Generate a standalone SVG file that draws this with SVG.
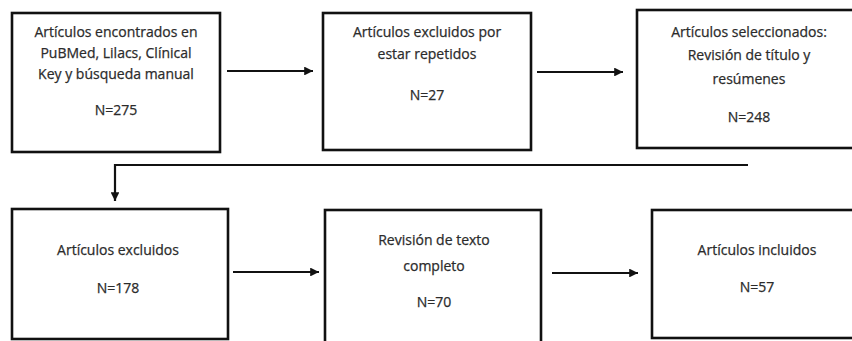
<svg xmlns="http://www.w3.org/2000/svg" width="852" height="341" viewBox="0 0 852 341">
<style>
.box{fill:#fff;stroke:#111;stroke-width:2.6}
.t{font-family:"Open Sans","Noto Sans",sans-serif;font-size:14px;fill:#2b2b2b;stroke:#2b2b2b;stroke-width:0.25;text-anchor:middle}
.c{fill:none;stroke:#111;stroke-width:2.2}
</style>
<defs>
<marker id="ah" viewBox="0 0 10 10" refX="10" refY="5" markerWidth="4.2" markerHeight="4" markerUnits="strokeWidth" orient="auto">
<path d="M0,0 L10,5 L0,10 Z" fill="#111"/>
</marker>
</defs>
<rect width="852" height="341" fill="#fff"/>
<g id="connectors">
<line class="c" x1="227" y1="71" x2="313" y2="71" marker-end="url(#ah)"/>
<line class="c" x1="537" y1="72" x2="623" y2="72" marker-end="url(#ah)"/>
<polyline class="c" points="748,165 115,165 115,201" marker-end="url(#ah)"/>
<line class="c" x1="233" y1="272" x2="319" y2="272" marker-end="url(#ah)"/>
<line class="c" x1="552" y1="273" x2="638" y2="273" marker-end="url(#ah)"/>
</g>
<g id="n1">
<rect class="box" x="12" y="13" width="208" height="139"/>
<text class="t" x="116" y="37">Artículos encontrados en</text>
<text class="t" x="116" y="58">PuBMed, Lilacs, Clínical</text>
<text class="t" x="116" y="79">Key y búsqueda manual</text>
<text class="t" x="116" y="115">N=275</text>
</g>
<g id="n2">
<rect class="box" x="323" y="13" width="208" height="137"/>
<text class="t" x="427" y="37">Artículos excluidos por</text>
<text class="t" x="427" y="59">estar repetidos</text>
<text class="t" x="427" y="100">N=27</text>
</g>
<g id="n3">
<rect class="box" x="637" y="10" width="225" height="138"/>
<text class="t" x="749" y="37">Artículos seleccionados:</text>
<text class="t" x="749" y="60">Revisión de título y</text>
<text class="t" x="749" y="84">resúmenes</text>
<text class="t" x="749" y="122">N=248</text>
</g>
<g id="n4">
<rect class="box" x="12" y="209" width="216" height="130"/>
<text class="t" x="118" y="255">Artículos excluidos</text>
<text class="t" x="118" y="293">N=178</text>
</g>
<g id="n5">
<rect class="box" x="325" y="210" width="216" height="140"/>
<text class="t" x="434" y="245">Revisión de texto</text>
<text class="t" x="434" y="271">completo</text>
<text class="t" x="434" y="307">N=70</text>
</g>
<g id="n6">
<rect class="box" x="652" y="210" width="212" height="128"/>
<text class="t" x="757" y="255">Artículos incluidos</text>
<text class="t" x="757" y="292">N=57</text>
</g>
</svg>
